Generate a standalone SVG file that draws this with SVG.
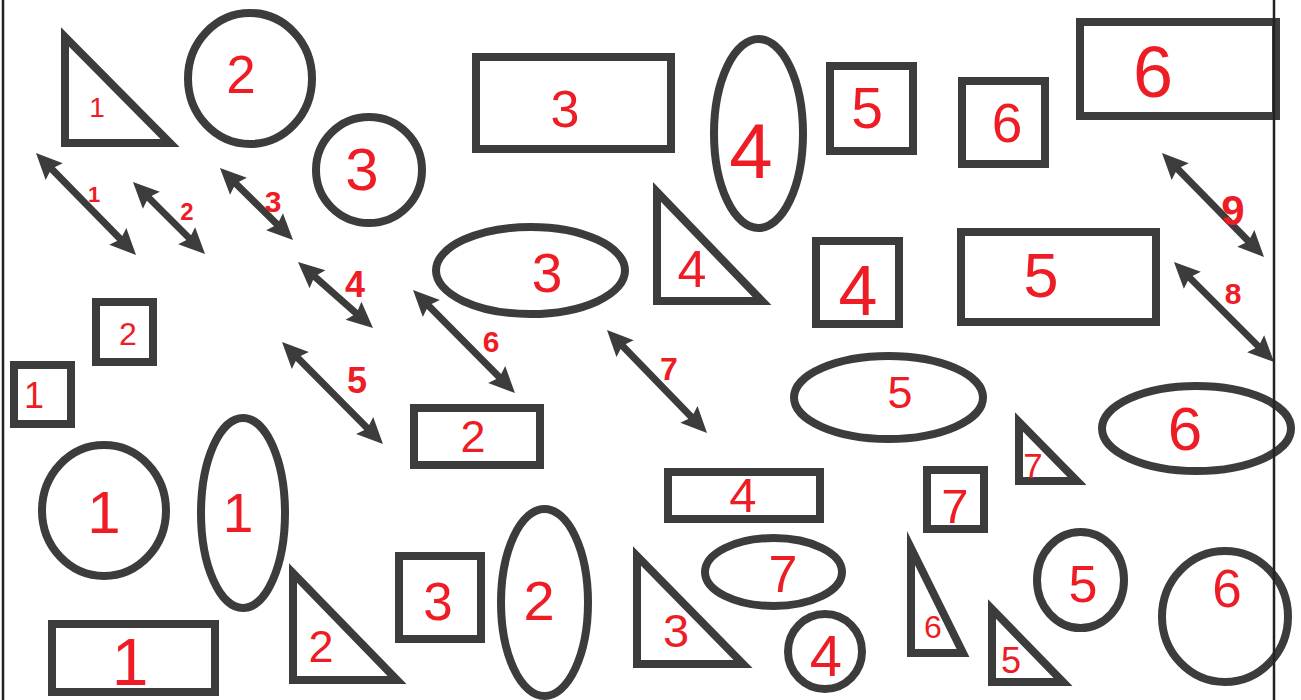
<svg xmlns="http://www.w3.org/2000/svg" width="1301" height="700" viewBox="0 0 1301 700">
<style>
.s{fill:none;stroke:#3c3c3c;stroke-width:8;stroke-linejoin:miter;stroke-miterlimit:12}
.t{fill:#ee1c25;font-family:"Liberation Sans",Arial,sans-serif;text-anchor:middle}
.a{fill:#ee1c25;font-family:"Liberation Sans",Arial,sans-serif;text-anchor:middle;font-weight:bold}
.c{fill:none;stroke:#3c3c3c;stroke-width:7;marker-start:url(#h);marker-end:url(#h)}
.b{stroke:#222;stroke-width:2.5}
</style>
<defs>
<marker id="h" viewBox="-8 -14 30 28" refX="0" refY="0" markerWidth="30" markerHeight="28" markerUnits="userSpaceOnUse" orient="auto-start-reverse" overflow="visible">
<path d="M20,0 L-6,-12 L-2,0 L-6,12 Z" fill="#3c3c3c"/>
</marker>
</defs>
<rect width="1301" height="700" fill="#fff"/>

<g id="tri1"><path class="s" d="M65,37 L65,143 L170,143 Z"/><text class="t" x="97" y="117" font-size="28">1</text></g>
<g id="circle2"><ellipse class="s" cx="250" cy="78.5" rx="62" ry="65.5"/><text class="t" x="241" y="93" font-size="53">2</text></g>
<g id="circle3"><ellipse class="s" cx="369" cy="170" rx="53" ry="53"/><text class="t" x="362" y="190" font-size="60">3</text></g>
<g id="rect3top"><rect class="s" x="476" y="57" width="195" height="92"/><text class="t" x="565" y="127" font-size="52">3</text></g>
<g id="ellipse4"><ellipse class="s" cx="758.5" cy="133.5" rx="44.5" ry="94.5"/><text class="t" x="751" y="178" font-size="78">4</text></g>
<g id="ellipse3"><ellipse class="s" cx="530.5" cy="270.5" rx="94.5" ry="43.5"/><text class="t" x="547" y="292" font-size="55">3</text></g>
<g id="tri4"><path class="s" d="M657,192 L657,301 L762,301 Z"/><text class="t" x="692" y="287" font-size="52">4</text></g>
<g id="rect5"><rect class="s" x="830" y="66" width="83" height="85"/><text class="t" x="867" y="128" font-size="57">5</text></g>
<g id="rect6small"><rect class="s" x="962" y="81" width="83" height="83"/><text class="t" x="1007" y="142" font-size="55">6</text></g>
<g id="rect6big"><rect class="s" x="1080" y="22" width="196" height="94"/><text class="t" x="1153" y="97" font-size="72">6</text></g>
<g id="rect4sq"><rect class="s" x="816" y="241" width="83" height="83"/><text class="t" x="858" y="315" font-size="70">4</text></g>
<g id="rect5wide"><rect class="s" x="961" y="232" width="195" height="90"/><text class="t" x="1041" y="297" font-size="63">5</text></g>

<g id="rect2left"><rect class="s" x="96" y="302" width="57" height="60"/><text class="t" x="128" y="345" font-size="32">2</text></g>
<g id="rect1left"><rect class="s" x="14" y="365" width="57" height="59"/><text class="t" x="34" y="408" font-size="36">1</text></g>
<g id="circle1"><ellipse class="s" cx="104" cy="510.5" rx="62" ry="65.5"/><text class="t" x="104" y="533" font-size="60">1</text></g>
<g id="ellipse1"><ellipse class="s" cx="243" cy="513" rx="42" ry="95"/><text class="t" x="238" y="532" font-size="55">1</text></g>
<g id="rect1bottom"><rect class="s" x="52" y="624" width="163" height="68"/><text class="t" x="130" y="685" font-size="66">1</text></g>
<g id="tri2"><path class="s" d="M293,573 L293,680 L397,680 Z"/><text class="t" x="321" y="662" font-size="45">2</text></g>
<g id="rect2mid"><rect class="s" x="414" y="408" width="126" height="57"/><text class="t" x="473" y="452" font-size="45">2</text></g>
<g id="rect4wide"><rect class="s" x="668" y="472" width="152" height="47"/><text class="t" x="743" y="512" font-size="49">4</text></g>
<g id="rect3bottom"><rect class="s" x="399" y="556" width="82" height="83"/><text class="t" x="438" y="620" font-size="53">3</text></g>
<g id="ellipse2"><ellipse class="s" cx="544.5" cy="602.5" rx="43.5" ry="93.5"/><text class="t" x="539" y="620" font-size="56">2</text></g>
<g id="tri3"><path class="s" d="M637,556 L637,664 L743,664 Z"/><text class="t" x="676" y="647" font-size="47">3</text></g>
<g id="ellipse7"><ellipse class="s" cx="773.5" cy="572" rx="68.5" ry="34"/><text class="t" x="783" y="592" font-size="52">7</text></g>
<g id="circle4"><ellipse class="s" cx="825" cy="651.5" rx="37" ry="37.5"/><text class="t" x="826" y="676" font-size="58">4</text></g>
<g id="ellipse5"><ellipse class="s" cx="888.5" cy="397.5" rx="94.5" ry="41.5"/><text class="t" x="900" y="408" font-size="45">5</text></g>
<g id="ellipse6"><ellipse class="s" cx="1196.5" cy="428.5" rx="94.5" ry="42.5"/><text class="t" x="1185" y="450" font-size="62">6</text></g>
<g id="tri7"><path class="s" d="M1019,422 L1019,481 L1077,481 Z"/><text class="t" x="1033" y="478" font-size="35">7</text></g>
<g id="rect7"><rect class="s" x="927" y="470" width="57" height="59"/><text class="t" x="955" y="523" font-size="49">7</text></g>
<g id="tri6"><path class="s" d="M911,548 L911,653 L963,653 Z"/><text class="t" x="933" y="638" font-size="32">6</text></g>
<g id="tri5"><path class="s" d="M992,609 L992,682 L1063,682 Z"/><text class="t" x="1011" y="673" font-size="36">5</text></g>
<g id="circle5"><ellipse class="s" cx="1080.5" cy="580" rx="43.5" ry="48"/><text class="t" x="1083" y="602" font-size="52">5</text></g>
<g id="circle6"><ellipse class="s" cx="1225" cy="616.5" rx="63" ry="65.5"/><text class="t" x="1227" y="607" font-size="53">6</text></g>

<g id="connectors">
<path class="c" d="M50,167.3 L122,240.7"/>
<path class="c" d="M147.1,196.1 L190.9,239.9"/>
<path class="c" d="M234.2,182 L278.8,226"/>
<path class="c" d="M313,275.2 L358,314.8"/>
<path class="c" d="M296.1,356.2 L368.9,429.8"/>
<path class="c" d="M427.1,304.2 L500.9,378.8"/>
<path class="c" d="M620.9,344.3 L693.1,418.7"/>
<path class="c" d="M1188.1,276.1 L1259.9,347.9"/>
<path class="c" d="M1176,167.3 L1250,242.7"/>
<text class="a" x="94" y="202" font-size="22">1</text>
<text class="a" x="187" y="220" font-size="24">2</text>
<text class="a" x="273" y="212" font-size="30">3</text>
<text class="a" x="355" y="297" font-size="36">4</text>
<text class="a" x="357" y="393" font-size="36">5</text>
<text class="a" x="491" y="352" font-size="30">6</text>
<text class="a" x="669" y="380" font-size="32">7</text>
<text class="a" x="1233" y="304" font-size="30">8</text>
<text class="a" x="1233" y="225" font-size="42">9</text>
</g>

<g id="border">
<line class="b" x1="3" y1="0" x2="3" y2="700"/>
<line class="b" x1="1274" y1="0" x2="1274" y2="700"/>
</g>
</svg>
